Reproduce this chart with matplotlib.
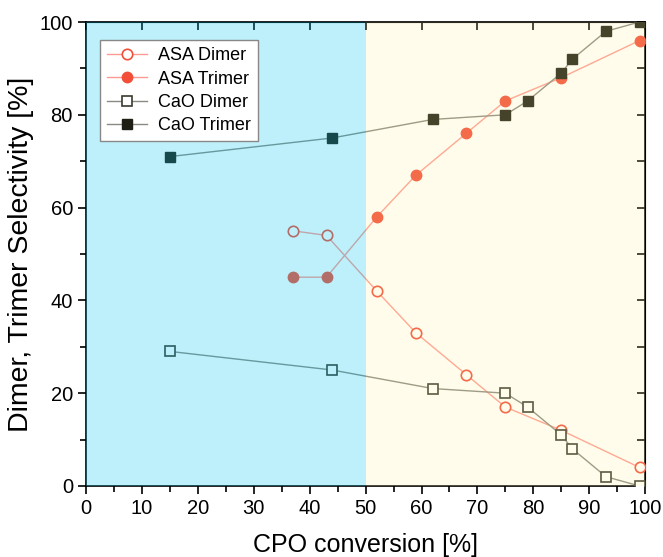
import matplotlib
matplotlib.use("Agg")
import matplotlib.pyplot as plt
from matplotlib.ticker import MultipleLocator

plt.rcParams['font.family'] = ['Liberation Sans', 'DejaVu Sans']

# CPO conversion [%] and selectivities [%]
asa_x = [37, 43, 52, 59, 68, 75, 85, 99]
asa_dimer = [55, 54, 42, 33, 24, 17, 12, 4]
asa_trimer = [45, 45, 58, 67, 76, 83, 88, 96]

cao_x = [15, 44, 62, 75, 79, 85, 87, 93, 99]
cao_dimer = [29, 25, 21, 20, 17, 11, 8, 2, 0]
cao_trimer = [71, 75, 79, 80, 83, 89, 92, 98, 100]

red = '#f24e3a'
red_line = '#ff9a92'
gray_line = '#8a8a82'
dark = '#1e1e14'

fig = plt.figure(figsize=(6.63, 5.57), dpi=100)
ax = fig.add_axes([0.130, 0.1275, 0.843, 0.833])

ax.plot(asa_x, asa_dimer, '-o', color=red_line, lw=1, ms=7.5,
        mfc='white', mec=red, mew=1.2, label='ASA Dimer', zorder=3)
ax.plot(asa_x, asa_trimer, '-o', color=red_line, lw=1, ms=7.5,
        mfc=red, mec=red, label='ASA Trimer', zorder=3)
ax.plot(cao_x, cao_dimer, '-s', color=gray_line, lw=1, ms=6.5,
        mfc='white', mec='#3a3a30', mew=1.2, label='CaO Dimer', zorder=3)
ax.plot(cao_x, cao_trimer, '-s', color=gray_line, lw=1, ms=6.5,
        mfc=dark, mec=dark, label='CaO Trimer', zorder=3)

# shaded regions over the data
ax.axvspan(0, 50, color='#00c8f0', alpha=0.26, lw=0, zorder=4)
ax.axvspan(50, 100, color='#fff096', alpha=0.18, lw=0, zorder=4)

ax.set_xlim(0, 100)
ax.set_ylim(0, 100)
ax.xaxis.set_major_locator(MultipleLocator(10))
ax.xaxis.set_minor_locator(MultipleLocator(5))
ax.yaxis.set_major_locator(MultipleLocator(20))
ax.yaxis.set_minor_locator(MultipleLocator(10))
ax.tick_params(which='both', direction='out', top=False, right=False,
               labelsize=14.5, width=1.2)
ax.tick_params(which='major', length=6)
ax.tick_params(which='minor', length=4)

# inward ticks on top and right
sec_x = ax.secondary_xaxis('top')
sec_x.xaxis.set_major_locator(MultipleLocator(10))
sec_x.tick_params(direction='in', length=6, width=1.2, labeltop=False)
sec_y = ax.secondary_yaxis('right')
sec_y.yaxis.set_major_locator(MultipleLocator(10))
sec_y.tick_params(direction='in', length=6, width=1.2, labelright=False)

for s in ax.spines.values():
    s.set_linewidth(1.2)

ax.set_xlabel('CPO conversion [%]', fontsize=18, labelpad=11)
ax.set_ylabel('Dimer, Trimer Selectivity [%]', fontsize=20.5, labelpad=4)

leg = ax.legend(loc='upper left', bbox_to_anchor=(0.025, 0.961),
                borderaxespad=0, fontsize=13,
                fancybox=False, edgecolor='#888888', framealpha=1,
                handlelength=2.2, borderpad=0.4, labelspacing=0.35,
                handletextpad=0.6)
leg.set_zorder(5)

fig.savefig('out.png', dpi=100)
